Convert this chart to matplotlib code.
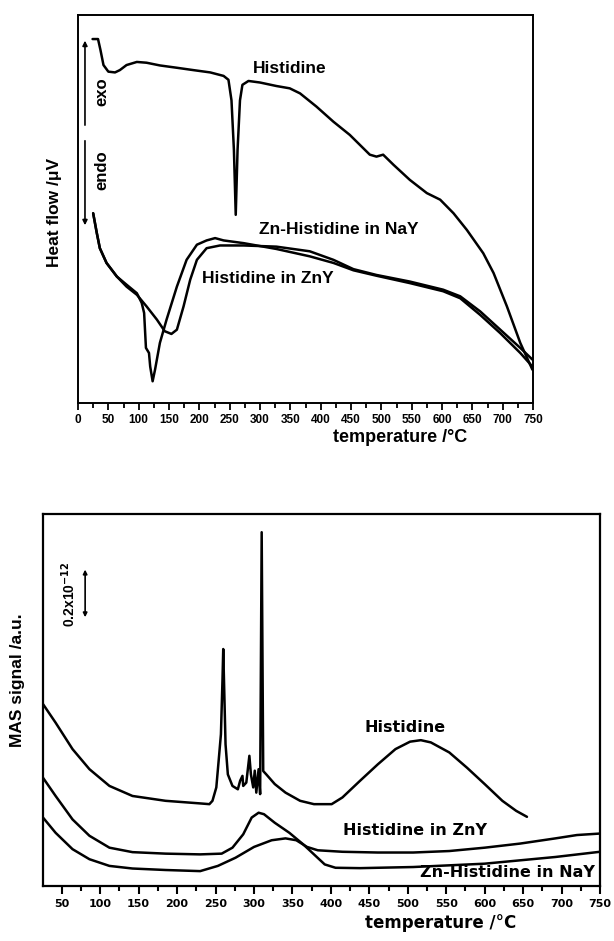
import numpy as np
import matplotlib
matplotlib.use("Agg")
from matplotlib import pyplot as plt
from matplotlib.ticker import MultipleLocator

# DTA curves (top panel), temperature in degC, heat flow in arbitrary units
his_t = [24, 33, 37, 42, 50, 61, 69, 80, 97, 113, 135, 163, 190, 218, 240, 248, 253, 257, 260, 263,
         267, 271, 281, 300, 327, 349, 366, 393, 421, 448, 481, 492, 503, 520, 547, 575, 597, 619,
         641, 668, 685, 707, 729, 749]
his_y = [93.8, 93.8, 91, 87.1, 85.4, 85.2, 85.8, 87.1, 87.9, 87.7, 87.0, 86.4, 85.8, 85.2, 84.3, 83.3,
         78, 65.2, 48.5, 65.2, 78, 82, 83, 82.6, 81.7, 81.1, 79.8, 76.4, 72.5, 69.1, 64, 63.5, 64,
         61.4, 57.5, 54.1, 52.4, 48.9, 44.6, 38.6, 33.5, 24.9, 15.5, 8.6]

zny_t = [25, 31, 36, 47, 64, 80, 97, 113, 130, 143, 154, 163, 174, 185, 196, 212, 234, 273, 327, 382,
         421, 454, 492, 547, 602, 630, 663, 696, 729, 749]
zny_y = [48.9, 43.8, 39.9, 36.1, 32.6, 30, 27.9, 24.9, 21.5, 18.5, 17.8, 18.9, 24.9, 31.8, 36.9, 39.9,
         40.6, 40.6, 40.3, 39.1, 36.9, 34.5, 33, 31.3, 29.2, 27.5, 23.6, 18.9, 14.2, 11.2]

nay_t = [25, 31, 36, 47, 64, 80, 97, 105, 109, 112, 117, 119, 123, 127, 135, 146, 163, 179, 196, 212,
         226, 240, 273, 327, 382, 421, 454, 492, 547, 602, 630, 663, 696, 729, 749]
nay_y = [48.9, 43.8, 39.9, 36.1, 32.6, 30.5, 28.3, 25.8, 23.2, 14.2, 12.9, 9.4, 5.6, 8.6, 15.5, 21.5,
         30, 36.9, 40.8, 41.9, 42.5, 41.9, 41.2, 39.7, 37.8, 36.1, 34.2, 32.8, 30.9, 28.8, 27, 22.7,
         18, 12.9, 9.4]

# MAS curves (bottom panel)
ms_his_t = [25.6, 42, 64, 86, 112, 142, 185, 230, 242, 246, 251, 254, 257, 259, 260, 261, 263, 266,
            272, 279, 282, 285, 286, 290, 294, 296, 299, 301, 303, 306, 308, 310, 312, 316, 327, 341,
            360, 378, 401, 415, 438, 461, 484, 503, 517, 530, 554, 577, 600, 623, 641, 655]
ms_his_y = [48.9, 43.9, 36.8, 31.4, 26.9, 24.2, 22.9, 22.2, 22, 22.9, 26.5, 33.6, 40.8, 55.2, 63.7,
            55.2, 38.1, 30, 26.9, 26, 28.3, 29.6, 26.9, 27.8, 35, 30, 26.5, 31, 25.1, 31.4, 24.7,
            95.1, 30.9, 30, 27.4, 25.1, 22.9, 22, 22, 23.8, 28.3, 32.7, 36.8, 38.8, 39.2, 38.6,
            35.9, 31.8, 27.4, 22.9, 20.2, 18.6]

ms_zny_t = [25.6, 42, 64, 86, 112, 142, 185, 230, 258, 272, 286, 297, 306, 313, 327, 346, 364, 378,
            392, 406, 438, 507, 600, 692, 750]
ms_zny_y = [29.1, 24.2, 17.9, 13.5, 10.3, 9.1, 8.7, 8.5, 8.7, 10.3, 13.9, 18.4, 19.7, 19.3, 17, 14.3,
            11.2, 8.5, 5.8, 4.9, 4.8, 5.1, 6, 7.8, 9.2]

ms_nay_t = [25.6, 42, 64, 86, 112, 142, 185, 230, 253, 276, 300, 323, 341, 355, 369, 383, 415, 461,
            507, 554, 600, 646, 692, 720, 750]
ms_nay_y = [18.4, 14.3, 9.9, 7.2, 5.4, 4.7, 4.3, 4.0, 5.4, 7.6, 10.5, 12.3, 12.8, 12.3, 10.5, 9.6,
            9.2, 9.0, 9.0, 9.4, 10.3, 11.4, 12.8, 13.7, 14.1]

LW = 1.8
SANS = "Liberation Sans"
WIDE = "DejaVu Sans"
line_kw = dict(color="black", lw=LW, solid_joinstyle="round", solid_capstyle="round")

fig = plt.figure(figsize=(6.14, 9.41), dpi=100)

###############################################################
# top panel: DTA
###############################################################
ax1 = fig.add_axes([78/614, 1-403/941, 455/614, 388/941])
ax1.plot(his_t, his_y, **line_kw)
ax1.plot(zny_t, zny_y, **line_kw)
ax1.plot(nay_t, nay_y, **line_kw)
ax1.set_xlim(0, 750)
ax1.set_ylim(0, 100)
ax1.xaxis.set_major_locator(MultipleLocator(50))
ax1.xaxis.set_minor_locator(MultipleLocator(25))
ax1.tick_params(axis="x", which="major", direction="out", length=5, width=1.3, pad=3)
ax1.tick_params(axis="x", which="minor", direction="out", length=3.5, width=1.3)
ax1.set_yticks([])
for lab in ax1.get_xticklabels():
    lab.set_fontfamily(SANS)
    lab.set_fontweight("bold")
    lab.set_fontsize(8.5)
for s in ax1.spines.values():
    s.set_linewidth(1.4)

ax1.text(289, 86.3, "Histidine", fontfamily=SANS, fontweight="bold", fontsize=12.5, va="center")
ax1.text(299, 44.6, "Zn-Histidine in NaY", fontfamily=SANS, fontweight="bold", fontsize=12.5, va="center")
ax1.text(204, 32.2, "Histidine in ZnY", fontfamily=SANS, fontweight="bold", fontsize=12.5, va="center")

# exo / endo arrows
ax1.annotate("", xy=(11.5, 94.1), xytext=(11.5, 70.9),
             arrowprops=dict(arrowstyle="-|>", color="black", lw=1.2, mutation_scale=7))
ax1.annotate("", xy=(11.5, 45.1), xytext=(11.5, 68.3),
             arrowprops=dict(arrowstyle="-|>", color="black", lw=1.2, mutation_scale=7))
ax1.text(39.5, 80.2, "exo", rotation=90, fontfamily=SANS, fontweight="bold", fontsize=12,
         ha="center", va="center")
ax1.text(39.5, 60, "endo", rotation=90, fontfamily=SANS, fontweight="bold", fontsize=12,
         ha="center", va="center")

fig.text(55/614, 1-212/941, "Heat flow /\u03bcV", rotation=90, fontfamily=SANS, fontweight="bold",
         fontsize=12.5, ha="center", va="center")
fig.text(400/614, 1-438/941, "temperature /\u00b0C", fontfamily=SANS, fontweight="bold",
         fontsize=13, ha="center", va="center")

###############################################################
# bottom panel: MAS
###############################################################
ax2 = fig.add_axes([43/614, 1-886/941, 557/614, 372/941])
ax2.plot(ms_his_t, ms_his_y, **line_kw)
ax2.plot(ms_zny_t, ms_zny_y, **line_kw)
ax2.plot(ms_nay_t, ms_nay_y, **line_kw)
ax2.set_xlim(25.6, 750)
ax2.set_ylim(0, 100)
ax2.set_xticks(np.arange(50, 751, 50))
ax2.xaxis.set_minor_locator(MultipleLocator(25))
ax2.tick_params(axis="x", which="major", direction="out", length=5.5, width=1.5, pad=4)
ax2.tick_params(axis="x", which="minor", direction="out", length=3.5, width=1.5)
ax2.set_yticks([])
for lab in ax2.get_xticklabels():
    lab.set_fontfamily(WIDE)
    lab.set_fontweight("bold")
    lab.set_fontsize(8)
for s in ax2.spines.values():
    s.set_linewidth(1.6)

ax2.text(497, 42.6, "Histidine", fontfamily=WIDE, fontweight="bold", fontsize=11.5,
         ha="center", va="center")
ax2.text(509, 14.8, "Histidine in ZnY", fontfamily=WIDE, fontweight="bold", fontsize=11.5,
         ha="center", va="center")
ax2.text(743, 3.6, "Zn-Histidine in NaY", fontfamily=WIDE, fontweight="bold", fontsize=11.5,
         ha="right", va="center")

# scale bar
ax2.annotate("", xy=(80.4, 85.8), xytext=(80.4, 71.5),
             arrowprops=dict(arrowstyle="<|-|>", color="black", lw=1.2, mutation_scale=6))
ax2.text(59.5, 78.5, r"0.2x10$^{\mathbf{-12}}$", rotation=90, fontfamily=SANS, fontweight="bold",
         fontsize=10, ha="center", va="center")

fig.text(18/614, 1-680/941, "MAS signal /a.u.", rotation=90, fontfamily=SANS, fontweight="bold",
         fontsize=12.5, ha="center", va="center")
fig.text(441/614, 1-923/941, "temperature /\u00b0C", fontfamily=WIDE, fontweight="bold",
         fontsize=12, ha="center", va="center")

fig.savefig("out.png", dpi=100)
